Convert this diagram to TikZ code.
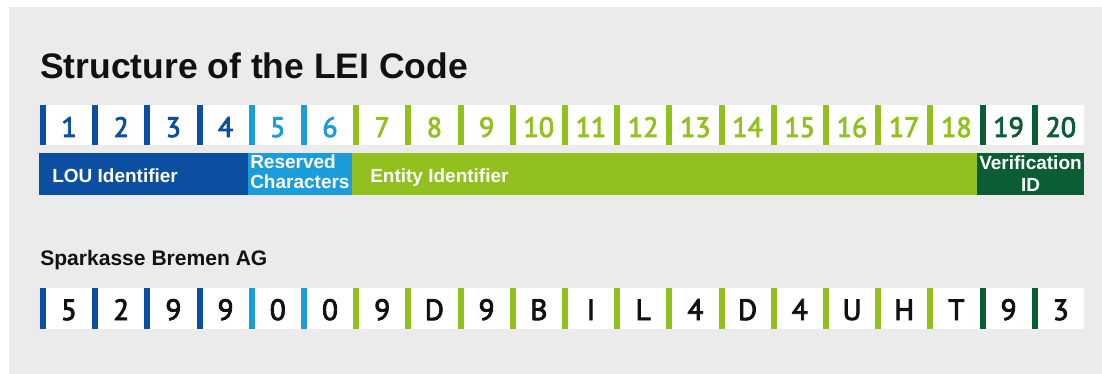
\documentclass[tikz,border=0pt]{standalone}
\usepackage{fontspec}
\setmainfont{Liberation Sans}
\newfontfamily\numfont[FakeBold=3]{PT Sans}
\definecolor{bgc}{HTML}{EBEBEB}
\definecolor{cA}{HTML}{0B4EA2}
\definecolor{cB}{HTML}{1C9DDB}
\definecolor{cC}{HTML}{92C01F}
\definecolor{cD}{HTML}{0B5E34}
\definecolor{txt}{HTML}{111111}
\newcommand\colfor[1]{\ifnum#1<5 cA\else\ifnum#1<7 cB\else\ifnum#1<19 cC\else cD\fi\fi\fi}
\tikzset{
  lbl/.style={text=white,font=\bfseries\fontsize{14.25}{15}\selectfont,inner sep=0pt},
  numtxt/.style={font=\numfont\fontsize{21}{22}\selectfont,inner sep=0pt,anchor=base},
  codetxt/.style={font=\numfont\fontsize{22}{22}\selectfont,inner sep=0pt,anchor=base,text=txt},
  heading/.style={font=\bfseries\fontsize{26.6}{30}\selectfont,inner sep=0pt,anchor=base west,text=txt},
  subheading/.style={font=\bfseries\fontsize{15.8}{18}\selectfont,inner sep=0pt,anchor=base west,text=txt},
}
\begin{document}
\begin{tikzpicture}[x=0.75pt,y=-0.75pt]
\useasboundingbox (0,0) rectangle (1102,374);
\fill[bgc] (9,7) rectangle (1102,374);
\node[heading] (title) at (40,79) {Structure of the LEI Code};
% number strips
\fill[white] (40,105) rectangle (1084,145);
\fill[white] (40,288) rectangle (1084,329);
\def\code{5,2,9,9,0,0,9,D,9,B,I,L,4,D,4,U,H,T,9,3}
\foreach \ch [count=\i] in \code {
  \edef\cc{\colfor{\i}}
  \pgfmathsetmacro\xl{40+52.2*(\i-1)}
  \fill[\cc] (\xl,105) rectangle ++(6,40);
  \fill[\cc] (\xl,288) rectangle ++(6,41);
  \node[numtxt,text=\cc] (n\i) at (\xl+29,137) {\i};
  \node[codetxt] (c\i) at (\xl+29,320) {\ch};
}
% bands
\fill[cA] (39,153) rectangle (248,195);
\fill[cB] (248,153) rectangle (352,195);
\fill[cC] (352,153) rectangle (977,195);
\fill[cD] (977,153) rectangle (1084,195);
\node[lbl,anchor=base west] (lou) at (52,182) {LOU Identifier};
\node[lbl,anchor=base west] (res1) at (250,168) {Reserved};
\node[lbl,anchor=base west] (res2) at (250,189) {Characters};
\node[lbl,anchor=base west] (ent) at (370,182) {Entity Identifier};
\node[lbl,anchor=base] (ver1) at (1030.5,170) {Verification};
\node[lbl,anchor=base] (ver2) at (1030.5,191) {ID};
\node[subheading] (sub) at (40,265) {Sparkasse Bremen AG};
\end{tikzpicture}
\end{document}
